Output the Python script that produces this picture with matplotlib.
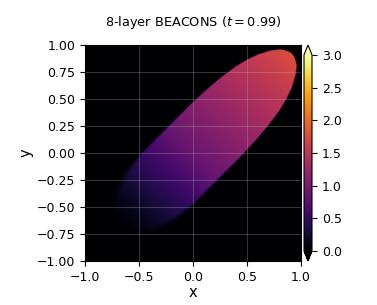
import numpy as np
import matplotlib
matplotlib.use("Agg")
import matplotlib.pyplot as plt

# ---- data ----
title = "8-layer BEACONS ($t = 0.99$)"
xticks = [-1.0, -0.5, 0.0, 0.5, 1.0]
yticks = [-1.0, -0.75, -0.5, -0.25, 0.0, 0.25, 0.5, 0.75, 1.0]
cticks = [0.0, 0.5, 1.0, 1.5, 2.0, 2.5, 3.0]
vmin, vmax = 0.0, 3.0

# profile along the diagonal direction s = (x+y)/sqrt(2)
s_val = [-1.0, -0.85, -0.7, -0.5, -0.25, 0.0, 0.5, 1.0, 1.3]
val = [0.0, 0.08, 0.2, 0.38, 0.62, 0.88, 1.22, 1.55, 1.78]
# half-width of the blob (perpendicular distance from the diagonal)
s_w = [-1.0, -0.9, -0.75, -0.55, -0.35, 0.3, 0.5, 0.68, 0.85, 0.97, 1.08, 1.18, 1.25, 1.28, 1.295, 1.3]
half_w = [0.0, 0.17, 0.26, 0.31, 0.335, 0.335, 0.327, 0.312, 0.287, 0.257, 0.217, 0.163, 0.11, 0.064, 0.03, 0.0]
# edge softness along the diagonal
s_eps = [-1.0, -0.3, 0.3]
edge_eps = [0.12, 0.03, 0.008]

n = 800
xs = np.linspace(-1, 1, n)
X, Y = np.meshgrid(xs, xs)
S = (X + Y) / np.sqrt(2)
V = (Y - X) / np.sqrt(2)
W = np.interp(S, s_w, half_w)
prof = np.interp(S, s_val, val, left=0.0, right=0.0)
eps = np.interp(S, s_eps, edge_eps)
mask = np.clip((W - np.abs(V)) / eps + 0.5, 0, 1)
Z = prof * mask

fig = plt.figure(figsize=(3.77, 3.05), dpi=100)
ax = fig.add_axes([85 / 377, 44 / 305, 216 / 377, 216 / 305])
cax = fig.add_axes([304 / 377, 44 / 305, 8 / 377, 216 / 305])

im = ax.imshow(Z, extent=[-1, 1, -1, 1], origin="lower", cmap="inferno",
               vmin=vmin, vmax=vmax, interpolation="bilinear")
ax.set_xlim(-1, 1)
ax.set_ylim(-1, 1)
ax.set_xticks(xticks)
ax.set_yticks(yticks)
ax.tick_params(labelsize=9)
ax.grid(True, color="#b0b0b0", alpha=0.3, linewidth=0.8)
ax.set_xlabel("x", fontsize=10.5, labelpad=1)
ax.set_ylabel("y", fontsize=10.5, labelpad=2)
ax.set_title(title, fontsize=9.3, pad=14)

cb = fig.colorbar(im, cax=cax, extend="both")
cb.set_ticks(cticks)
cb.ax.tick_params(labelsize=9)

fig.savefig("out.png", dpi=100)
